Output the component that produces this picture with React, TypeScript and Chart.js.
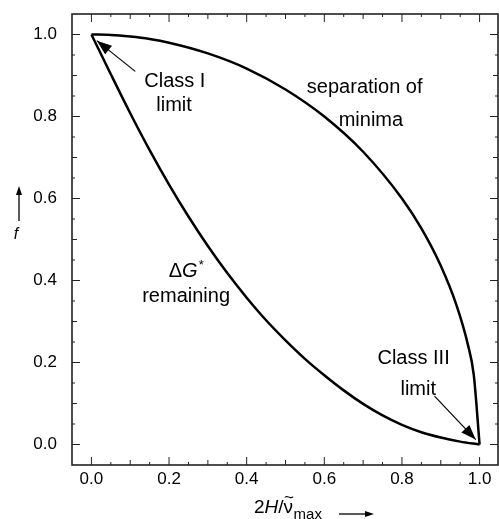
import React, { useEffect, useRef } from 'react';
import { Chart, registerables } from 'chart.js';

Chart.register(...registerables);

// Upper curve: "separation of minima"
const upperX = [0, 0.05, 0.1, 0.15, 0.2, 0.3, 0.4, 0.5, 0.6, 0.7, 0.8, 0.85, 0.9, 0.94, 0.97, 0.985, 1.0];
const upperY = [1.0, 0.999, 0.995, 0.989, 0.98, 0.954, 0.917, 0.866, 0.8, 0.714, 0.6, 0.527, 0.436, 0.341, 0.243, 0.17, 0.0];

// Lower curve: "ΔG* remaining"
const lowerX = [0, 0.05, 0.1, 0.15, 0.2, 0.25, 0.3, 0.35, 0.4, 0.45, 0.5, 0.55, 0.6, 0.65, 0.7, 0.75, 0.8, 0.85, 0.9, 0.95, 1.0];
const lowerY = [1.0, 0.903, 0.808, 0.718, 0.634, 0.556, 0.484, 0.418, 0.358, 0.303, 0.254, 0.209, 0.169, 0.132, 0.099, 0.071, 0.048, 0.03, 0.017, 0.007, 0.0];

const xTickValues = [0, 0.2, 0.4, 0.6, 0.8, 1.0];
const yTickValues = [0, 0.2, 0.4, 0.6, 0.8, 1.0];
const minorStep = 0.05;

const xMin = -0.05;
const xMax = 1.05;
const yMin = -0.05;
const yMax = 1.05;

// Annotation texts (data coords, text centred on the point)
const textLabels = [
  { text: 'Class I', x: 0.215, y: 0.885 },
  { text: 'limit', x: 0.213, y: 0.828 },
  { text: 'separation of', x: 0.704, y: 0.871 },
  { text: 'minima', x: 0.72, y: 0.79 },
  { text: 'remaining', x: 0.244, y: 0.362 },
  { text: 'Class III', x: 0.83, y: 0.21 },
  { text: 'limit', x: 0.842, y: 0.134 },
];
const arrows = [
  { x1: 0.113, y1: 0.91, x2: 0.014, y2: 0.985 },
  { x1: 0.884, y1: 0.118, x2: 0.99, y2: 0.012 },
];
const deltaG = { x: 0.243, y: 0.423 };

const FONT = '"Liberation Sans", Arial, Helvetica, sans-serif';
const ANN = 20;

function drawArrowHead(ctx: CanvasRenderingContext2D, x1: number, y1: number, x2: number, y2: number, len: number, half: number) {
  const a = Math.atan2(y2 - y1, x2 - x1);
  ctx.beginPath();
  ctx.moveTo(x2, y2);
  ctx.lineTo(x2 - len * Math.cos(a) + half * Math.sin(a), y2 - len * Math.sin(a) - half * Math.cos(a));
  ctx.lineTo(x2 - len * Math.cos(a) - half * Math.sin(a), y2 - len * Math.sin(a) + half * Math.cos(a));
  ctx.closePath();
  ctx.fill();
}

const decorPlugin = {
  id: 'decor',
  afterDatasetsDraw(chart: any) {
    const { ctx, chartArea, scales } = chart;
    const xs = scales.x;
    const ys = scales.y;
    const { left, right, top, bottom } = chartArea;
    ctx.save();
    // frame
    ctx.strokeStyle = '#222';
    ctx.lineWidth = 1.6;
    ctx.strokeRect(left, top, right - left - 1, bottom - top);
    // inner ticks
    ctx.lineWidth = 1;
    const tickLen = (v: number) => {
      const r2 = Math.abs(v / 0.2 - Math.round(v / 0.2)) < 1e-6;
      const r1 = Math.abs(v / 0.1 - Math.round(v / 0.1)) < 1e-6;
      return r2 ? 8 : r1 ? 5 : 3;
    };
    for (let i = 0; i <= 20; i++) {
      const v = i * minorStep;
      const L = tickLen(v);
      const px = xs.getPixelForValue(v);
      ctx.beginPath();
      ctx.moveTo(px, bottom); ctx.lineTo(px, bottom - L);
      ctx.moveTo(px, top); ctx.lineTo(px, top + L);
      ctx.stroke();
      const py = ys.getPixelForValue(v);
      ctx.beginPath();
      ctx.moveTo(left, py); ctx.lineTo(left + L, py);
      ctx.moveTo(right - 1, py); ctx.lineTo(right - 1 - L, py);
      ctx.stroke();
    }
    // annotation texts
    ctx.fillStyle = '#000';
    ctx.textAlign = 'center';
    ctx.textBaseline = 'middle';
    ctx.font = `${ANN}px ${FONT}`;
    textLabels.forEach((t) => {
      ctx.fillText(t.text, xs.getPixelForValue(t.x), ys.getPixelForValue(t.y));
    });
    // ΔG*
    {
      const cx = xs.getPixelForValue(deltaG.x);
      const cy = ys.getPixelForValue(deltaG.y);
      ctx.font = `${ANN}px ${FONT}`;
      const wD = ctx.measureText('Δ').width;
      ctx.font = `italic ${ANN}px ${FONT}`;
      const wG = ctx.measureText('G').width;
      ctx.font = `13px ${FONT}`;
      const wS = ctx.measureText('*').width;
      let x0 = cx - (wD + wG + wS) / 2;
      ctx.textAlign = 'left';
      ctx.font = `${ANN}px ${FONT}`;
      ctx.fillText('Δ', x0, cy);
      x0 += wD;
      ctx.font = `italic ${ANN}px ${FONT}`;
      ctx.fillText('G', x0, cy);
      x0 += wG + 1;
      ctx.font = `13px ${FONT}`;
      ctx.fillText('*', x0, cy - 6);
    }
    // arrows
    ctx.strokeStyle = '#000';
    ctx.lineWidth = 1.2;
    arrows.forEach((a) => {
      const x1 = xs.getPixelForValue(a.x1), y1 = ys.getPixelForValue(a.y1);
      const x2 = xs.getPixelForValue(a.x2), y2 = ys.getPixelForValue(a.y2);
      ctx.beginPath();
      ctx.moveTo(x1, y1); ctx.lineTo(x2, y2);
      ctx.stroke();
      drawArrowHead(ctx, x1, y1, x2, y2, 15, 5.5);
    });
    // y-axis title: arrow + italic f
    ctx.lineWidth = 1.3;
    ctx.beginPath();
    ctx.moveTo(19, 221); ctx.lineTo(19, 192);
    ctx.stroke();
    drawArrowHead(ctx, 19, 221, 19, 186, 9, 3);
    ctx.textAlign = 'center';
    ctx.textBaseline = 'alphabetic';
    ctx.font = `italic 16px ${FONT}`;
    ctx.fillText('f', 16, 239);
    // x-axis title: 2H/ν̃max + arrow
    {
      let x0 = 254;
      const by = 513;
      ctx.textAlign = 'left';
      ctx.font = `19px ${FONT}`;
      ctx.fillText('2', x0, by); x0 += ctx.measureText('2').width;
      ctx.font = `italic 19px ${FONT}`;
      ctx.fillText('H', x0, by); x0 += ctx.measureText('H').width;
      ctx.font = `19px ${FONT}`;
      ctx.fillText('/', x0, by); x0 += ctx.measureText('/').width;
      const wn = ctx.measureText('ν').width;
      ctx.fillText('ν', x0, by);
      ctx.font = `17px ${FONT}`;
      ctx.fillText('~', x0 + 0.5, by - 10);
      x0 += wn + 0.5;
      ctx.font = `15px ${FONT}`;
      ctx.fillText('max', x0, by + 6);
      ctx.lineWidth = 1.3;
      ctx.beginPath();
      ctx.moveTo(339, 514); ctx.lineTo(367, 514);
      ctx.stroke();
      drawArrowHead(ctx, 339, 514, 374, 514, 9, 3);
    }
    ctx.restore();
  },
};

export default function App() {
  const canvasRef = useRef<HTMLCanvasElement | null>(null);
  useEffect(() => {
    const canvas = canvasRef.current;
    if (!canvas) return;
    const zeroPad = (scale: any) => {
      scale.paddingLeft = 0;
      scale.paddingRight = 0;
      scale.paddingTop = 0;
      scale.paddingBottom = 0;
    };
    const chart = new Chart(canvas, {
      type: 'scatter',
      data: {
        datasets: [
          {
            label: 'separation of minima',
            data: upperX.map((x, i) => ({ x, y: upperY[i] })),
            showLine: true,
            borderColor: '#000',
            borderWidth: 2.5,
            pointRadius: 0,
            cubicInterpolationMode: 'monotone',
          },
          {
            label: 'ΔG* remaining',
            data: lowerX.map((x, i) => ({ x, y: lowerY[i] })),
            showLine: true,
            borderColor: '#000',
            borderWidth: 2.5,
            pointRadius: 0,
            cubicInterpolationMode: 'monotone',
          },
        ],
      },
      options: {
        animation: false,
        responsive: false,
        maintainAspectRatio: false,
        layout: { padding: { top: 14, right: 0, left: 0, bottom: 0 } },
        plugins: { legend: { display: false }, tooltip: { enabled: false } },
        scales: {
          x: {
            type: 'linear',
            min: xMin,
            max: xMax,
            grid: { display: false, drawTicks: false },
            border: { display: false },
            afterBuildTicks: (scale: any) => {
              scale.ticks = xTickValues.map((v) => ({ value: v }));
            },
            afterFit: (scale: any) => {
              scale.height = 54;
              zeroPad(scale);
            },
            ticks: {
              padding: 4,
              color: '#000',
              font: { family: FONT, size: 17 },
              maxRotation: 0,
              callback: (v: any) => Number(v).toFixed(1),
            },
          },
          y: {
            type: 'linear',
            min: yMin,
            max: yMax,
            grid: { display: false, drawTicks: false },
            border: { display: false },
            afterBuildTicks: (scale: any) => {
              scale.ticks = yTickValues.map((v) => ({ value: v }));
            },
            afterFit: (scale: any) => {
              scale.width = 72;
              zeroPad(scale);
            },
            ticks: {
              padding: 15,
              color: '#000',
              font: { family: FONT, size: 17 },
              callback: (v: any) => Number(v).toFixed(1),
            },
          },
        },
      },
      plugins: [decorPlugin],
    });
    return () => chart.destroy();
  }, []);
  return (
    <div style={{ position: 'fixed', left: 0, top: 0, width: 499, height: 519, overflow: 'hidden', background: '#fff' }}>
      <canvas ref={canvasRef} width={499} height={519} style={{ width: 499, height: 519, display: 'block' }} />
    </div>
  );
}
